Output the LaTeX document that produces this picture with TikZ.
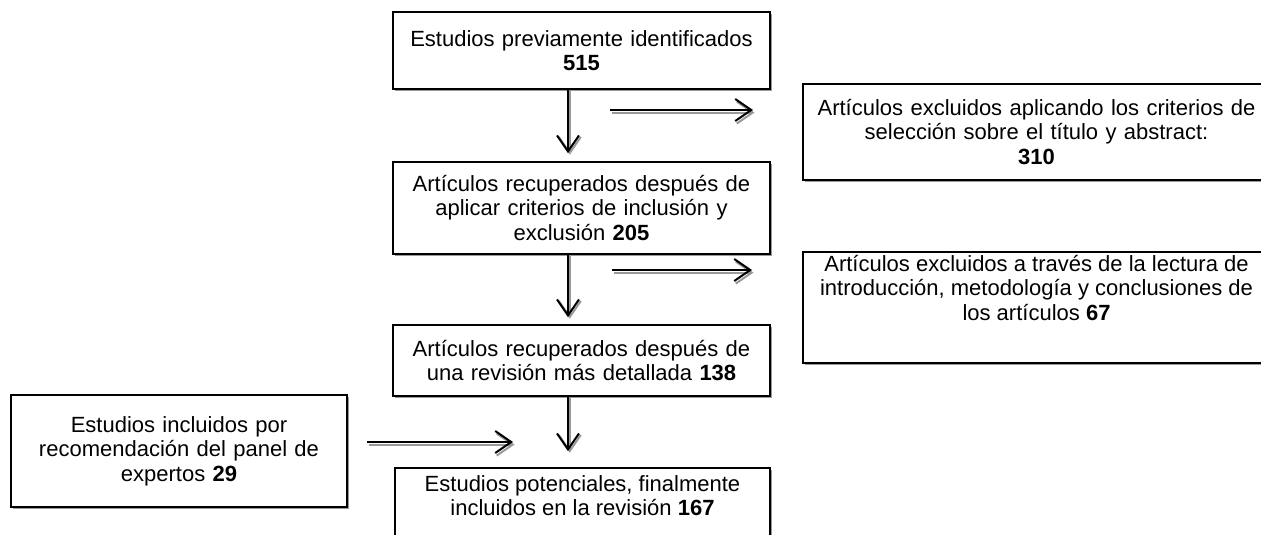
\documentclass[tikz,border=0pt]{standalone}
\usepackage{fontspec}
\setmainfont{Liberation Sans}
\usetikzlibrary{arrows.meta,shadows}
\tikzset{
  box/.style={draw, line width=1.6pt, fill=white, align=center, inner sep=0pt,
    font=\fontsize{22}{24.5}\selectfont,
    drop shadow={shadow xshift=2pt, shadow yshift=-2pt, fill=black!40, opacity=1}},
  arr/.style={line width=2pt, -{Straight Barb[length=16pt,width=22pt,line width=2pt]}},
  arrshadow/.style={arr, draw=black!40},
}
\begin{document}
\begin{tikzpicture}[x=1pt,y=-1pt]
\useasboundingbox (0,0) rectangle (1261,535);

\node[box, minimum width=377pt, minimum height=77pt, text width=370pt] (b1) at (581.5,50.5)
  {Estudios previamente identificados\\\textbf{515}};
\node[box, minimum width=377pt, minimum height=92pt, text width=370pt] (b2) at (581.5,208)
  {Artículos recuperados después de\\aplicar criterios de inclusión y\\exclusión \textbf{205}};
\node[box, minimum width=377pt, minimum height=71pt, text width=370pt] (b3) at (581.5,360.5)
  {Artículos recuperados después de\\una revisión más detallada \textbf{138}};
\node[box, minimum width=375pt, minimum height=72pt] (b4) at (582.5,504)
  {\parbox[t][72pt][t]{375pt}{\centering\vspace*{6pt}\strut Estudios potenciales, finalmente\\incluidos en la revisión \textbf{167}}};
\node[box, minimum width=467pt, minimum height=96pt, text width=460pt] (r1) at (1036.5,132)
  {Artículos excluidos aplicando los criterios de\\selección sobre el título y abstract:\\\textbf{310}};
\node[box, minimum width=467pt, minimum height=111pt] (r2) at (1036.5,307.5)
  {\parbox[t][111pt][t]{467pt}{\centering\vspace*{2pt}\strut Artículos excluidos a través de la lectura de\\introducción, metodología y conclusiones de\\los artículos \textbf{67}}};
\node[box, minimum width=336pt, minimum height=112pt, text width=330pt] (l1) at (179,451)
  {Estudios incluidos por\\recomendación del panel de\\expertos \textbf{29}};

% free ends of the side arrows
\coordinate (h1s) at (610,110);  \coordinate (h1e) at (753,110);
\coordinate (h2s) at (612,270);  \coordinate (h2e) at (752,270);
\coordinate (h3s) at (367,442);  \coordinate (h3e) at (513,442);

% shadows of arrows
\tikzset{hs/.style={shift={(1.5pt,-2.6pt)}}, vs/.style={shift={(1.8pt,-1.5pt)}}}
\draw[arrshadow] ([hs]h1s) -- ([hs]h1e);
\draw[arrshadow] ([hs]h2s) -- ([hs]h2e);
\draw[arrshadow] ([hs]h3s) -- ([hs]h3e);
\draw[arrshadow, shorten >=8pt] ([vs,xshift=-13.5pt]b1.south) -- ([vs,xshift=-13.5pt]b2.north);
\draw[arrshadow, shorten >=7pt] ([vs,xshift=-13.5pt]b2.south) -- ([vs,xshift=-13.5pt]b3.north);
\draw[arrshadow, shorten >=16pt] ([vs,xshift=-13.5pt]b3.south) -- ([vs,xshift=-14.5pt]b4.north);

% arrows
\draw[arr] (h1s) -- (h1e);
\draw[arr] (h2s) -- (h2e);
\draw[arr] (h3s) -- (h3e);
\draw[arr, shorten >=8pt] ([xshift=-13.5pt]b1.south) -- ([xshift=-13.5pt]b2.north);
\draw[arr, shorten >=7pt] ([xshift=-13.5pt]b2.south) -- ([xshift=-13.5pt]b3.north);
\draw[arr, shorten >=16pt] ([xshift=-13.5pt]b3.south) -- ([xshift=-14.5pt]b4.north);
\end{tikzpicture}
\end{document}
